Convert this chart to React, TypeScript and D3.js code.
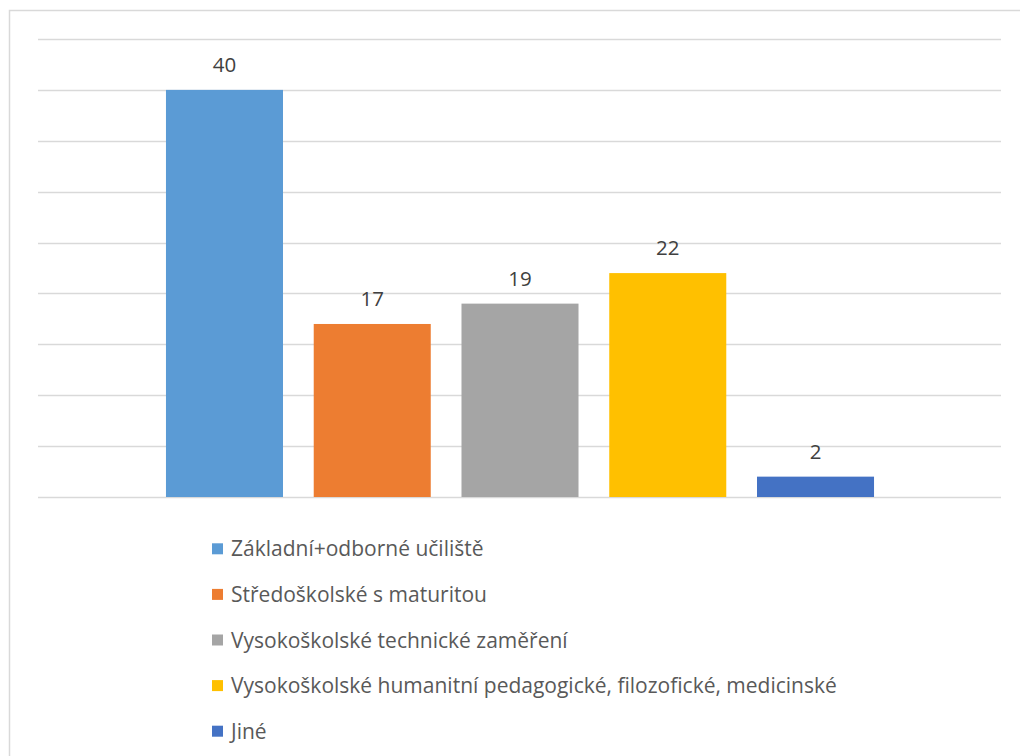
import React from "react";
import * as d3 from "d3";

const categories = [
  "Základní+odborné učiliště",
  "Středoškolské s maturitou",
  "Vysokoškolské technické zaměření",
  "Vysokoškolské humanitní pedagogické, filozofické, medicinské",
  "Jiné",
];
const values = [40, 17, 19, 22, 2];
const colors = ["#5b9bd5", "#ed7d31", "#a5a5a5", "#ffc000", "#4472c4"];
const yTicks = [0, 5, 10, 15, 20, 25, 30, 35, 40, 45];

const W = 1020;
const H = 756;
const FONT = "'Open Sans', sans-serif";

export default function App() {
  const y = d3.scaleLinear().domain([0, 45]).range([497, 39]);
  const x = d3
    .scaleBand<string>()
    .domain(categories)
    .range([150.6, 889.4])
    .paddingInner(0.208)
    .paddingOuter(0.104);

  const legendY = d3.scaleBand<string>().domain(categories).range([526, 754]);

  return (
    <svg
      width={W}
      height={H}
      style={{ position: "absolute", left: 0, top: 0 }}
      fontFamily={FONT}
    >
      <rect x={0} y={0} width={W} height={H} fill="#fff" />
      <path d="M9.5,756 V10.5 H1020" fill="none" stroke="#d9d9d9" strokeWidth={1.5} />
      {yTicks.map((t) => (
        <line
          key={t}
          x1={38}
          x2={1001}
          y1={Math.round(y(t)) + 0.5}
          y2={Math.round(y(t)) + 0.5}
          stroke="#d9d9d9"
          strokeWidth={1.5}
        />
      ))}
      {categories.map((c, i) => (
        <g key={c}>
          <rect
            x={x(c)}
            y={y(values[i])}
            width={x.bandwidth()}
            height={y(0) - y(values[i])}
            fill={colors[i]}
          />
          <text
            x={(x(c) as number) + x.bandwidth() / 2}
            y={y(values[i]) - 18}
            textAnchor="middle"
            fontSize={20.5}
            fill="#404040"
          >
            {values[i]}
          </text>
        </g>
      ))}
      {categories.map((c, i) => {
        const cy = (legendY(c) as number) + legendY.bandwidth() / 2;
        return (
          <g key={"lg" + c}>
            <rect x={212} y={cy - 5.5} width={11} height={11} fill={colors[i]} />
            <text x={231} y={cy + 7.5} fontSize={21} fill="#595959">
              {c}
            </text>
          </g>
        );
      })}
    </svg>
  );
}
